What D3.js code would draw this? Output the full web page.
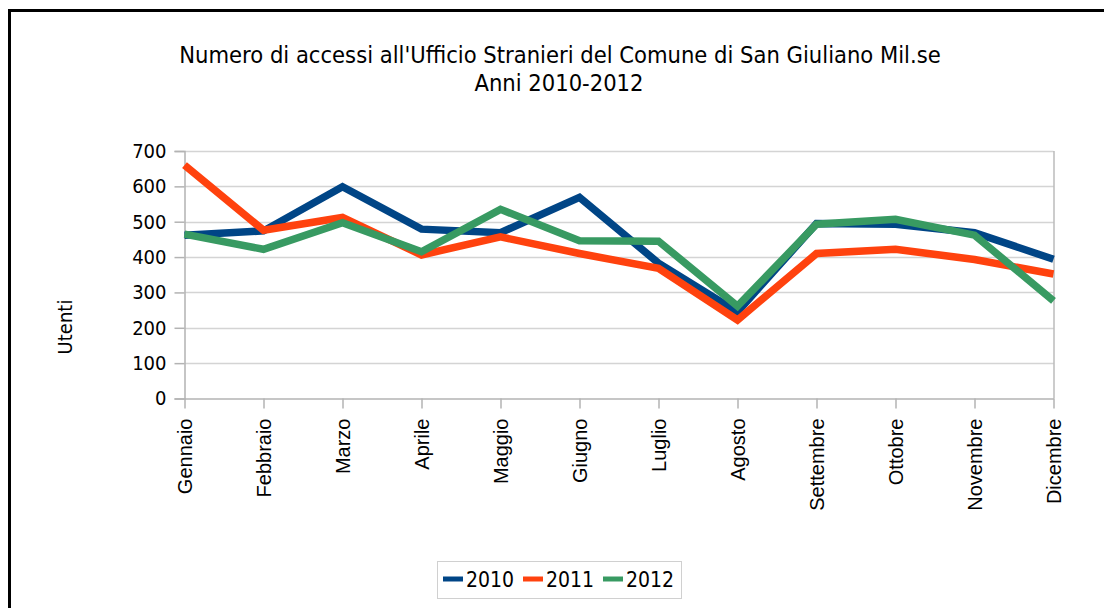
<!DOCTYPE html>
<html>
<head>
<meta charset="utf-8">
<script src="https://cdn.jsdelivr.net/npm/d3@7"></script>
<style>
  html, body { margin: 0; padding: 0; background: #fff; }
  svg { display: block; }
</style>
</head>
<body>
<svg id="chart" width="1104" height="608"></svg>
<script>
const mesi = ["Gennaio", "Febbraio", "Marzo", "Aprile", "Maggio", "Giugno",
              "Luglio", "Agosto", "Settembre", "Ottobre", "Novembre", "Dicembre"];
const anni = ["2010", "2011", "2012"];
const valori2010 = [462, 474, 599, 479, 469, 569, 383, 245, 495, 493, 469, 394];
const valori2011 = [660, 476, 512, 406, 457, 410, 368, 222, 410, 422, 393, 352];
const valori2012 = [465, 422, 497, 415, 535, 446, 445, 261, 493, 507, 462, 276];
const yTicks = [0, 100, 200, 300, 400, 500, 600, 700];

const colori = ["#004586", "#ff420e", "#389a62"];
const serie = [valori2010, valori2011, valori2012];

const svg = d3.select("#chart");
const condensed = "'DejaVu Sans Condensed', 'DejaVu Sans', sans-serif";

// outer frame (right and bottom edges fall outside the picture)
svg.append("rect")
    .attr("x", 9.5).attr("y", 10.5)
    .attr("width", 1200).attr("height", 700)
    .attr("fill", "none").attr("stroke", "#000").attr("stroke-width", 3);

// title
const title = svg.append("text")
    .attr("text-anchor", "middle")
    .style("font-family", condensed)
    .style("font-size", "23.5px")
    .attr("fill", "#000");
title.append("tspan").attr("x", 560).attr("y", 63)
    .text("Numero di accessi all'Ufficio Stranieri del Comune di San Giuliano Mil.se");
title.append("tspan").attr("x", 559).attr("y", 91)
    .text("Anni 2010-2012");

// scales
const x = d3.scalePoint().domain(mesi).range([184.5, 1053.5]);
const y = d3.scaleLinear().domain([0, 700]).range([398.5, 151]);

// grid lines
svg.append("g")
    .selectAll("line")
    .data(yTicks.slice(1))
    .join("line")
    .attr("x1", 184.5).attr("x2", 1053.5)
    .attr("y1", d => Math.round(y(d)) + 0.5).attr("y2", d => Math.round(y(d)) + 0.5)
    .attr("stroke", "#d4d4d4").attr("stroke-width", 1.5);

// right border of plot area
svg.append("line")
    .attr("x1", 1054).attr("x2", 1054)
    .attr("y1", 151).attr("y2", 398.5)
    .attr("stroke", "#999").attr("stroke-width", 1);

// y axis
const yAxis = svg.append("g")
    .attr("transform", "translate(184.5,0)")
    .call(d3.axisLeft(y).tickValues(yTicks).tickSize(10).tickPadding(8))
    .call(g => g.select(".domain").attr("stroke", "#b3b3b3").attr("stroke-width", 1.5));
yAxis.selectAll(".tick line").attr("stroke", "#b3b3b3").attr("stroke-width", 1.5);
yAxis.selectAll(".tick text")
    .style("font-family", condensed)
    .style("font-size", "20px")
    .attr("fill", "#000");

// x axis
const xAxis = svg.append("g")
    .attr("transform", "translate(0,398.5)")
    .call(d3.axisBottom(x).tickSize(10).tickSizeOuter(0))
    .call(g => g.select(".domain").attr("stroke", "#b3b3b3").attr("stroke-width", 1.5));
xAxis.selectAll(".tick line").attr("stroke", "#b3b3b3").attr("stroke-width", 1.5);
xAxis.selectAll(".tick text")
    .style("font-family", "'Liberation Sans', Arial, sans-serif")
    .style("font-size", "20px")
    .attr("fill", "#000")
    .attr("text-anchor", "end")
    .attr("transform", "rotate(-90)")
    .attr("x", -20)
    .attr("y", 0)
    .attr("dy", "0.36em");

// y axis title
svg.append("text")
    .attr("transform", "translate(72,327) rotate(-90)")
    .attr("text-anchor", "middle")
    .style("font-family", condensed)
    .style("font-size", "20px")
    .attr("fill", "#000")
    .text("Utenti");

// lines
const line = d3.line()
    .x((d, i) => x(mesi[i]))
    .y(d => y(d));

svg.append("g")
    .selectAll("path")
    .data(serie)
    .join("path")
    .attr("d", line)
    .attr("fill", "none")
    .attr("stroke", (d, i) => colori[i])
    .attr("stroke-width", 7.5)
    .attr("stroke-linejoin", "miter")
    .attr("stroke-linecap", "butt");

// legend
const legend = svg.append("g");
legend.append("rect")
    .attr("x", 437.5).attr("y", 561.5)
    .attr("width", 244).attr("height", 37)
    .attr("fill", "#fff").attr("stroke", "#d0d0d0").attr("stroke-width", 1);

const legendX = [443, 523, 603];
const items = legend.selectAll("g.item")
    .data(anni)
    .join("g")
    .attr("class", "item")
    .attr("transform", (d, i) => `translate(${legendX[i]},579)`);
items.append("line")
    .attr("x1", 0).attr("x2", 20)
    .attr("y1", 0).attr("y2", 0)
    .attr("stroke", (d, i) => colori[i])
    .attr("stroke-width", 5);
items.append("text")
    .attr("x", 23).attr("y", 8)
    .style("font-family", condensed)
    .style("font-size", "21px")
    .attr("fill", "#000")
    .text(d => d);
</script>
</body>
</html>
